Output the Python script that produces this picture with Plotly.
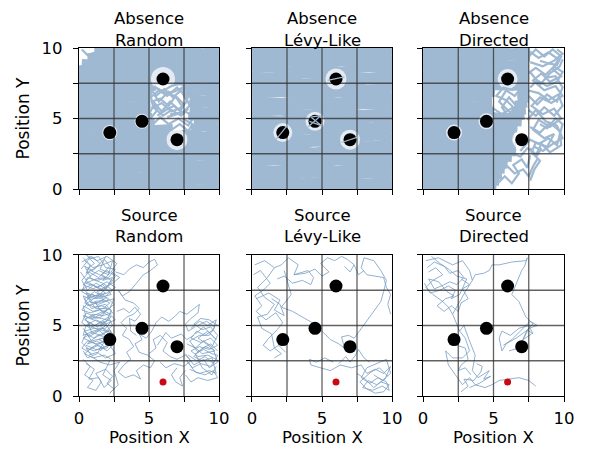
import plotly.graph_objects as go

# ---------------- data ----------------
tick_vals = [0, 2.5, 5, 7.5, 10]
tick_text = ["0", "", "5", "", "10"]
row_titles = ["Absence", "Source"]
col_titles = ["Random", "Lévy-Like", "Directed"]

target_x = [2.2, 4.5, 6.0, 7.0]
target_y = [4.0, 4.8, 7.8, 3.5]
source_x = [6.0]
source_y = [1.0]

# trajectories: each string is one path of "x,y" points
absence_random_dense = [
    "0,0.1 1.4,0.2 2.9,0.05 4.3,0.18 5.8,0.08 7.2,0.2 8.6,0.06 10,0.15",
    "10,0.5 8.5,0.62 7.1,0.45 5.6,0.58 4.2,0.44 2.8,0.6 1.3,0.46 0,0.55",
    "0,0.95 1.5,0.85 3,1.02 4.4,0.88 5.9,1.0 7.3,0.86 8.7,0.98 10,0.9",
    "10,1.4 8.6,1.28 7.1,1.42 5.7,1.3 4.2,1.45 2.8,1.3 1.4,1.42 0,1.32",
    "0,1.75 1.3,1.86 2.7,1.72 4.1,1.85 5.6,1.7 7.0,1.84 8.5,1.72 10,1.82",
    "10,2.2 8.6,2.3 7.2,2.12 5.8,2.26 4.3,2.14 2.9,2.28 1.4,2.12 0,2.25",
    "0,2.6 1.5,2.7 3.0,2.55 4.5,2.68 6.0,2.56 7.4,2.7 8.8,2.58 10,2.66",
    "10,3.0 8.8,3.1 7.6,2.98 6.4,3.0 5.0,3.1 3.6,2.98 2.2,3.1 0.9,2.98 0,3.05",
    "0,3.46 1.5,3.38 3.0,3.52 4.5,3.4 5.9,3.5 7.3,3.44 8.9,3.55 10,3.42",
    "10,3.9 8.9,3.8 7.8,3.92 6.4,3.85 5.0,3.95 3.6,3.82 2.2,3.94 0.9,3.82 0,3.9",
    "0,4.28 1.4,4.38 2.8,4.24 4.1,4.36 5.4,4.26 6.7,4.32", "8.0,4.3 9.1,4.4 10,4.26",
    "10,4.72 9.2,4.8 8.2,4.68", "5.4,4.7 4.0,4.8 2.7,4.66 1.4,4.8 0,4.7",
    "0,5.12 1.3,5.22 2.6,5.08 3.9,5.2 5.2,5.1", "7.8,5.14 9.0,5.24 10,5.1",
    "10,5.56 9.0,5.48 7.9,5.6", "5.1,5.55 3.6,5.48 2.3,5.62 1.1,5.5 0,5.58",
    "0,5.98 1.2,5.9 2.5,6.04 3.7,5.92 5.1,6.02", "7.9,5.96 9.1,6.06 10,5.94",
    "10,6.42 9.0,6.32 7.9,6.44", "5.1,6.4 3.7,6.48 2.4,6.34 1.2,6.46 0,6.36",
    "0,6.8 1.3,6.9 2.6,6.76 3.8,6.88 5.2,6.78", "7.6,6.82 8.9,6.92 10,6.78",
    "10,7.24 8.8,7.16 7.5,7.28", "5.5,7.22 4.0,7.3 2.7,7.16 1.4,7.28 0,7.2",
    "0,7.66 1.2,7.74 2.5,7.6 3.8,7.72 5.1,7.62 6.3,7.7 7.4,7.6 8.6,7.76 10,7.7",
    "10,8.08 8.9,8.0 7.8,8.14 6.6,8.06 5.3,8.08 3.9,8.16 2.6,8.02 1.3,8.14 0,8.04",
    "0,8.5 1.6,8.58 2.8,8.44 4.0,8.56 5.2,8.46 6.4,8.5 7.8,8.58 8.9,8.44 10,8.54",
    "10,8.92 8.8,8.84 7.6,8.98 6.4,8.88 5.2,8.96 4.0,8.86 2.8,8.98 1.6,8.88 0.2,8.94",
    "0.6,9.34 2.0,9.42 3.2,9.28 4.4,9.4 5.6,9.3 6.8,9.42 8.0,9.3 9.2,9.4 10,9.33",
    "10,9.78 8.8,9.7 7.6,9.82 6.4,9.72 5.2,9.84 4.0,9.72 2.8,9.82 1.1,9.75",
]
absence_random_thin = [
    "5.0,5.3 5.4,6.1 5.9,5.5 6.5,6.2 7.1,5.6 7.7,6.2 7.3,7.0 6.7,6.5 6.1,7.1 5.5,6.6 5.0,7.2 5.3,5.8 6.0,5.2 6.6,5.6 7.3,5.2 7.8,5.7",
    "5.0,6.4 5.7,7.0 6.3,6.6 7.0,7.2 7.6,6.6 7.9,5.9 7.4,5.4 6.8,5.9 6.2,5.6 5.6,5.2",
    "5.3,4.6 5.8,5.1 6.4,4.6 7.1,5.0 7.8,4.5 8.2,5.1 7.6,5.5 7.0,5.3 6.3,5.1",
    "5.3,7.3 5.9,6.9 6.6,7.3 7.3,7.5 7.8,6.9 8.1,7.4",
    "5.1,5.0 5.6,5.6 5.2,6.2 5.8,6.4 6.4,5.9 6.9,6.6 7.5,6.0 7.2,5.4 6.5,5.3",
    "4.9,6.9 5.5,7.2 6.2,6.8 6.8,6.9 7.4,7.2 7.7,6.4 8.0,6.7",
    "5.2,5.7 5.9,6.1 6.6,5.5 7.4,5.8 7.0,6.4 6.4,6.9 5.7,6.2 5.3,6.8",
    "6.6,4.2 7.2,4.6 7.8,4.1 8.1,4.6 7.4,5.0",
    "0.2,9.9 0.6,9.5 1.2,9.7 1.0,9.2 1.6,9.0 1.3,9.9 1.9,9.6",
]
absence_random_halo = [15, 15, 24, 21]

absence_levy_dense = [
    "0,0.1 2.1,0.22 4.3,0.05 6.4,0.2 8.5,0.06 10,0.18",
    "10,0.56 7.8,0.44 5.7,0.64 3.5,0.46 1.4,0.62 0,0.5",
    "0,1.0 2.3,0.88 4.5,1.1 6.6,0.9 8.8,1.08 10,0.95",
    "10,1.44 7.9,1.56 5.8,1.34 3.6,1.52 1.5,1.36 0,1.48",
    "0,1.88 2.0,1.98 4.2,1.78 6.3,1.96 8.4,1.8 10,1.92",
    "10,2.32 8.0,2.2 5.9,2.4 3.8,2.22 1.6,2.42 0,2.28",
    "0,2.76 2.2,2.86 4.4,2.66 6.5,2.84 8.6,2.68 10,2.8",
    "10,3.2 8.2,3.1 6.5,3.16 4.6,3.3 2.5,3.12 0.6,3.28 0,3.2",
    "0,3.64 1.65,3.58 2.75,3.66 4.6,3.56 6.35,3.68 7.65,3.62 9.0,3.72 10,3.6",
    "10,4.08 8.8,4.16 7.6,4.02 6.4,4.1 5.2,4.0 4.0,4.14 2.8,4.06 1.6,4.1 0,4.04",
    "0,4.52 1.75,4.44 2.65,4.5 3.9,4.44 5.1,4.52 6.8,4.6 8.5,4.46 10,4.56",
    "10,4.96 8.3,5.06 6.6,4.9 5.15,5.0 3.85,4.98 2.0,4.88 0,5.02",
    "0,5.4 1.9,5.5 3.9,5.34 5.9,5.48 7.9,5.32 10,5.46",
    "10,5.84 8.0,5.96 6.0,5.76 4.0,5.92 2.0,5.78 0,5.9",
    "0,6.28 2.1,6.18 4.1,6.36 6.2,6.2 8.2,6.38 10,6.24",
    "10,6.72 8.2,6.62 6.1,6.8 4.0,6.64 1.9,6.82 0,6.68",
    "0,7.16 2.0,7.26 3.9,7.1 5.45,7.2 6.55,7.18 8.3,7.1 10,7.24",
    "10,7.6 8.4,7.7 6.7,7.56 5.3,7.62 3.6,7.52 1.8,7.68 0,7.56",
    "0,8.04 1.9,7.96 3.9,8.12 5.35,8.0 6.65,8.06 8.4,7.96 10,8.1",
    "10,8.48 8.2,8.58 6.4,8.4 4.6,8.56 2.7,8.42 0.9,8.58 0,8.5",
    "0,8.92 2.1,9.02 4.2,8.84 6.3,9.0 8.4,8.86 10,8.98",
    "10,9.36 7.9,9.26 5.8,9.44 3.7,9.28 1.6,9.42 0,9.3",
    "0,9.8 2.2,9.88 4.4,9.72 6.6,9.86 8.8,9.74 10,9.84",
]
absence_levy_thin = [
    "2.9,6.2 3.5,6.9 4.2,6.1 3.6,5.8",
    "0.8,2.0 1.4,2.6 2.1,1.9",
    "8.2,8.6 8.9,9.2 9.4,8.5",
    "7.9,1.0 8.6,1.6 9.3,0.9",
    "3.2,8.3 3.9,8.9 4.4,8.2",
]
absence_levy_halo = [19, 19, 21, 20]
absence_levy_over = [
    "1.7,3.5 2.6,4.6",
    "4.0,4.4 4.9,5.2 4.2,5.1 4.95,4.5 4.1,4.8",
    "6.4,3.3 7.6,3.7",
    "5.4,7.7 6.6,7.95",
]

absence_directed_dense = [
    "0,0.1 1.3,0.2 2.6,0.05 3.9,0.18 5.2,0.08",
    "5.4,0.52 4.1,0.6 2.7,0.45 1.4,0.6 0,0.5",
    "0,0.94 1.4,0.86 2.8,1.0 4.2,0.88 5.6,0.98",
    "5.8,1.36 4.4,1.44 3.0,1.3 1.5,1.44 0,1.32",
    "0,1.78 1.5,1.86 3.0,1.72 4.5,1.84 6.0,1.74",
    "6.3,2.2 4.8,2.28 3.3,2.12 1.7,2.28 0,2.16",
    "0,2.62 1.7,2.7 3.4,2.56 5.0,2.7 6.6,2.58",
    "6.6,3.04 4.9,3.12 3.3,2.98 1.7,3.1 0,3.0",
    "0,3.46 1.6,3.54 3.2,3.4 4.8,3.52 6.4,3.44",
    "6.5,3.88 4.8,3.96 3.3,3.82 1.7,3.94 0,3.86",
    "0,4.3 1.6,4.38 3.2,4.24 4.9,4.36 6.7,4.26",
    "7.0,4.72 5.6,4.8 4.2,4.66 2.8,4.8 1.4,4.68 0,4.76",
    "0,5.14 1.5,5.22 3.0,5.08 4.5,5.2 5.9,5.1 7.2,5.2",
    "7.3,5.56 6.3,5.5", "5.0,5.56 3.6,5.48 2.3,5.62 1.1,5.5 0,5.58",
    "0,5.98 1.2,5.9 2.5,6.04 3.7,5.92 4.9,6.0", "6.5,5.98 7.4,6.06",
    "7.5,6.4 6.7,6.34", "4.9,6.4 3.6,6.48 2.4,6.34 1.2,6.46 0,6.36",
    "0,6.82 1.3,6.9 2.6,6.76 3.9,6.88 5.1,6.8", "6.7,6.84 7.5,6.78",
    "7.5,7.24 6.3,7.3 5.4,7.24 4.0,7.3 2.7,7.16 1.4,7.28 0,7.2",
    "0,7.66 1.3,7.74 2.6,7.6 3.9,7.72 5.2,7.62 6.4,7.7 7.5,7.6",
    "7.5,8.12 6.4,8.06 5.3,8.08 4.1,8.16 2.7,8.02 1.4,8.14 0,8.04",
    "0,8.5 1.5,8.58 3.0,8.44 4.5,8.56 6.0,8.48 7.5,8.56",
    "7.5,8.92 6.3,8.84 5.0,8.98 3.8,8.86 2.5,8.98 1.2,8.86 0,8.94",
    "0,9.34 1.3,9.42 2.6,9.28 3.9,9.4 5.1,9.3 6.3,9.42 7.6,9.32",
    "7.6,9.78 6.3,9.7 5.0,9.82 3.8,9.72 2.5,9.84 1.2,9.72 0,9.8",
]
absence_directed_thin = [
    "7.5,9.8 8.2,9.3 8.9,9.7 9.6,9.2 9.2,8.5 9.8,8.0 9.0,7.6 8.4,8.2 7.8,7.7 8.6,7.0 9.4,7.3 9.9,6.6 9.1,6.1 8.3,6.5 7.7,5.9 8.5,5.3 9.3,5.7 9.8,5.0 9.0,4.4 8.2,4.9 7.8,4.2 8.6,3.6 9.3,3.9 8.8,3.0 8.0,3.3 7.7,2.6 8.3,2.0 7.9,1.4 7.6,0.6",
    "7.6,9.0 8.5,8.7 9.3,9.1 9.9,9.6 9.5,9.9",
    "7.5,6.6 8.1,6.0 8.8,6.7 9.5,6.2 9.9,7.2 9.4,8.0 8.7,7.9",
    "7.4,4.9 8.0,5.6 8.7,4.8 9.5,4.5 9.9,3.6 9.2,3.2 8.5,2.7 7.9,3.0",
    "7.3,8.1 8.0,8.6 8.7,8.1 9.3,8.7 9.9,8.3 9.5,7.6 8.8,7.3 8.1,7.7 7.6,7.2",
    "7.4,7.0 8.2,6.8 8.9,6.3 9.6,6.7 9.9,5.9 9.3,5.2 8.6,5.8 8.0,5.2 7.5,5.6",
    "7.6,4.4 8.3,4.0 9.0,4.7 9.7,4.1 9.8,3.1 9.0,2.6 8.4,3.2 8.0,2.4 7.6,2.9",
    "7.5,9.4 8.0,9.9 8.6,9.4 9.2,9.9 9.8,9.4 9.5,8.8 8.9,8.9 8.3,9.1",
    "6.9,2.7 7.6,3.5 8.2,3.2 8.9,3.6 9.5,3.1 9.9,4.6 9.4,5.0 8.8,4.3 8.3,4.6",
    "5.2,0.3 5.8,0.9 6.3,0.4 6.8,1.1 6.4,1.7 7.0,2.1 7.4,1.5 7.6,2.4",
    "5.6,2.0 6.2,2.6 6.9,2.3 7.4,2.9 8.1,2.4 8.4,2.9",
    "5.4,1.3 6.0,1.6 6.5,1.1 7.1,1.4 7.5,0.9 7.8,1.6 8.1,2.1",
    "6.0,5.2 5.6,5.8 6.1,6.5 6.6,5.9 6.2,5.4 5.4,6.2 5.9,7.0 6.5,6.6 7.0,7.2",
    "5.0,5.7 5.6,5.3 6.4,5.8 5.9,6.3 5.2,6.6 5.7,7.2 6.4,7.0",
    "7.6,8.3 8.3,7.4 9.0,8.2 9.7,8.7 9.9,9.2",
]
absence_directed_halo = [16, 16, 20, 19]

source_random_paths = [
    "0.3,9.8 0.8,9.3 0.5,8.7 1.2,9.1 1.8,9.7 2.2,9.2 1.6,8.6 2.3,8.2 1.9,7.6 1.2,8.0 0.6,7.5 0.2,8.2 0.7,8.8 1.4,8.4 2.0,8.9 2.6,8.5 2.2,7.9 1.5,7.2 0.9,6.8 0.3,7.1 0.6,6.4 1.3,6.6 2.0,7.0 2.5,6.5 1.9,6.0 1.2,5.6 0.5,5.9 0.2,5.2 0.8,4.8 1.5,5.2 2.1,5.6 2.4,5.0 1.8,4.5 1.1,4.1 0.5,4.4 0.2,3.8 0.7,3.3 1.4,3.6 2.0,3.2 2.5,3.7 1.9,4.0 1.3,3.0 0.6,2.7 0.3,3.2",
    "0.2,9.5 0.9,9.9 1.5,9.4 1.0,8.9 0.4,9.2 0.9,8.3 1.7,8.0 2.4,7.5 1.8,7.0 1.1,7.4 0.4,6.9 0.9,6.2 1.6,6.4 2.3,6.1 2.0,5.3 1.3,4.9 0.6,5.3 0.9,4.5 1.6,4.3 2.2,4.7 2.5,4.2 1.7,3.8 1.0,3.5 0.4,3.0 1.0,2.7 1.8,2.9 2.3,2.6",
    "0.5,10.0 1.3,9.6 2.0,9.9 2.7,9.4 2.3,8.8 2.9,8.4 2.4,8.0 1.6,7.6 0.9,7.9 0.3,7.6 0.8,7.1 1.6,6.9 2.2,6.6 1.7,6.2 1.0,6.0 0.3,6.4 0.5,5.6 1.3,5.3 1.9,5.0 1.4,4.6 0.7,4.2 0.3,4.8",
    "0.1,8.8 0.6,8.1 1.3,7.7 2.0,8.1 2.6,7.7 2.0,7.3 1.2,7.1 0.5,7.3 1.0,6.6 1.8,6.7 2.5,6.9 2.2,6.2 1.5,5.9 0.8,5.6 1.6,5.5 2.3,5.3 1.9,4.8 1.1,4.8 0.4,4.6 0.9,3.9 1.7,4.1 2.3,3.9 2.0,3.4 1.2,3.3 0.5,3.6",
    "0.4,9.6 1.0,9.1 1.7,9.3 2.4,9.6 2.1,8.6 1.4,8.9 0.8,8.5 0.3,7.9 1.0,7.6 1.7,7.9 2.3,7.2 1.6,7.0 0.9,7.2 0.4,6.6 1.1,6.3 1.9,6.5 2.4,5.9 1.7,5.7 1.0,5.8 0.4,5.4 1.1,5.0 1.8,5.3 2.3,4.5 1.5,4.7 0.8,4.4 0.3,4.1 1.0,3.8 1.6,3.4 2.2,3.6 2.6,3.0 1.9,2.7 1.3,3.1 0.7,2.9",
    "0.15,9.0 0.7,9.7 1.4,9.9 1.9,9.1 2.6,9.0 2.1,8.4 1.3,8.2 0.6,8.4 0.2,7.4 0.9,7.0 1.6,7.3 2.1,6.8 1.4,6.5 0.7,6.7 0.2,6.1 0.8,5.9 1.5,6.1 2.1,5.9 2.6,5.4 1.9,5.1 1.2,5.4 0.5,5.0 0.3,4.3 1.0,4.6 1.7,4.8 2.4,4.4 1.9,3.9 1.2,3.7 0.6,3.9 0.2,3.4 0.9,3.0",
    "0.6,9.9 1.1,9.4 0.6,9.0 1.3,8.7 1.9,8.4 1.2,8.3 0.5,8.0 1.1,7.8 1.9,7.3 1.3,6.9 0.6,7.0 1.2,6.2 2.0,6.2 1.6,5.6 0.9,5.5 0.3,5.7 0.8,5.0 1.5,4.6 2.0,4.2 1.3,4.3 0.6,3.7 1.3,3.9 1.8,3.5 1.1,3.2 0.5,3.4 0.9,2.9",
    "1.9,9.9 1.5,9.0 2.2,8.7 1.7,8.2 2.4,8.4 2.0,7.7 1.3,7.4 1.8,6.8 1.1,6.7 1.6,6.0 2.3,5.6 1.5,5.0 2.2,4.3 1.4,4.0 2.1,3.7 1.5,3.2",
    "0.3,2.6 0.8,2.1 0.4,1.5 1.0,1.1 0.6,0.6 1.2,0.4 1.6,1.0 1.2,1.6 1.9,1.9 2.4,1.4 2.0,0.9 2.5,0.5 2.2,0.2 2.8,0.8 2.5,1.8 2.9,2.4 2.2,2.2 1.5,2.4 0.9,2.8",
    "0.5,2.3 1.1,1.9 0.7,1.2 1.4,1.3 1.8,0.6 2.3,1.1 1.7,1.5 2.2,2.5",
    "2.6,8.8 3.2,8.6 3.6,9.0 4.1,9.3 4.6,9.1 5.0,9.5 5.4,9.7 5.6,9.3 5.1,8.9 4.6,8.6 4.1,8.0 3.6,7.4 3.1,7.1 2.8,7.5 3.3,6.8 3.9,6.6 4.3,6.2 3.9,5.8 3.4,5.6 3.0,5.2 3.4,4.8 3.1,4.3 3.6,4.0 3.9,3.5 3.4,3.1 3.7,2.6 3.2,2.2 2.8,1.7 3.3,1.3 3.9,1.5 4.4,1.2 4.1,1.8 4.6,2.2 5.1,2.0 5.4,2.5 4.9,2.9 4.3,3.1 4.0,3.7 4.5,4.0 4.3,4.4",
    "2.7,6.0 3.2,6.2 3.6,5.9 4.0,6.3 4.4,5.8 4.0,5.3 3.6,5.5 3.7,4.6 4.1,4.3",
    "4.3,4.4 4.8,4.1 5.2,4.6 5.5,5.2 5.9,5.6 6.4,5.3 6.8,5.6 7.2,6.0 7.7,5.8 8.1,6.1 8.6,6.5 8.5,5.9 8.0,5.5 7.6,5.1 7.8,4.6 8.3,4.9",
    "5.0,3.0 5.5,3.4 5.3,4.0 5.8,4.3 6.3,3.8 6.0,3.2 6.5,2.8 7.0,2.6 7.6,2.9 8.0,2.5 7.5,2.1 6.8,2.3 6.2,2.0 5.8,2.4",
    "5.6,3.6 6.2,4.5 6.6,4.1 7.3,4.4 7.7,4.0 8.2,4.3",
    "8.0,4.8 8.6,5.3 9.2,5.0 9.8,5.4 9.6,4.7 9.0,4.3 8.4,4.6 8.0,4.1 8.7,3.8 9.4,4.1 9.9,3.6 9.3,3.3 8.6,3.5 8.0,3.2 8.5,2.8 9.2,2.9 9.8,2.6 9.4,2.1 8.7,2.3 8.1,2.0 7.7,2.5 8.3,1.7 9.0,1.5 9.6,1.8 9.9,1.3 9.2,1.1 8.5,1.3 8.0,1.0 7.6,1.5",
    "7.7,3.7 8.3,3.4 8.9,3.9 9.5,3.5 9.9,4.3 9.4,4.9 8.8,4.7 8.2,5.1 8.7,5.5 9.3,5.4 9.9,5.0",
    "7.8,2.9 8.4,2.5 9.0,2.8 9.6,2.3 9.9,2.9 9.5,3.0 8.9,3.3 8.3,3.0 8.8,2.0 9.5,1.5 9.8,2.1",
    "8.1,3.6 8.8,3.0 9.7,3.2 9.1,3.7 8.5,4.1 9.2,4.6 9.8,4.0 8.9,4.9 8.3,4.4",
    "7.6,3.0 8.2,2.2 8.9,2.6 9.3,2.0 9.9,2.4 9.6,3.3 9.0,3.5 8.5,3.1 7.9,3.9 8.6,4.3 9.3,4.3 9.7,4.9 9.1,5.3 8.5,5.0",
    "7.9,1.9 8.6,1.6 9.3,1.8 9.8,1.6 9.5,2.7 8.8,2.5 8.2,2.8 8.7,3.3 9.4,3.7 9.9,3.2",
    "7.0,2.0 6.6,1.5 6.9,1.0 7.4,0.7 7.2,1.3 7.6,1.8",
]

source_levy_paths = [
    "0.2,9.3 0.9,9.6 1.6,9.1 1.1,8.4 0.4,7.7 0.9,7.0 1.6,6.5 1.1,5.8 0.4,5.6 0.7,4.8 1.4,4.4 1.6,3.4 2.1,3.0 1.6,2.7",
    "0.1,8.6 0.6,8.9 1.3,8.0 0.8,7.5 0.2,7.1 0.7,6.4 0.3,6.0 1.0,5.4 1.7,5.9 2.2,5.2 1.8,4.7 1.2,4.1 0.8,3.6 1.3,3.2 1.9,3.6 2.4,3.1",
    "0.3,6.9 1.2,7.3 2.0,6.8 1.6,6.1 2.3,5.7 2.0,6.5 1.4,6.9",
    "1.6,9.1 2.1,9.3 2.6,9.8 3.3,9.3 3.0,8.6 4.0,8.9 4.4,8.4 4.2,7.9 3.6,8.2 2.9,8.0 2.3,8.5 1.8,8.3",
    "3.0,8.6 3.8,8.7 4.5,9.0 5.0,8.5 5.5,8.8 4.9,9.4 5.4,9.8 5.9,9.6 6.4,9.9 6.8,9.7 7.3,9.3 7.0,8.8 6.6,9.2",
    "2.3,8.9 2.8,7.2 2.1,6.3 2.9,6.0 3.6,5.6 4.3,5.2 5.0,4.6 5.6,4.0 6.2,3.7 6.6,3.4 6.4,4.2 6.9,4.3 7.3,4.1",
    "7.3,4.1 7.8,4.8 8.2,5.3 8.7,6.0 9.2,6.7 9.4,7.4 9.6,8.2 9.2,8.9 8.7,9.6 8.0,9.8 7.8,9.1 8.2,8.6 9.4,8.4 9.6,7.7 9.9,7.2 9.7,6.5 9.9,5.8",
    "7.3,9.3 7.6,8.6 8.0,8.9",
    "4.2,2.2 4.9,2.0 5.6,1.8 6.3,2.2 7.1,2.0 7.8,2.2 8.2,1.6 8.8,1.9 9.4,1.6 9.9,2.1 9.5,1.2 8.9,0.8 8.3,1.1 7.9,0.6 8.6,0.4 9.3,0.7 9.8,0.4 9.6,1.0 9.0,1.3 8.4,0.9 7.8,1.3 8.2,2.0 8.9,2.3 9.6,2.6 9.9,1.6 9.3,1.1 8.7,1.5",
    "7.5,1.6 8.1,1.2 8.7,0.6 9.2,1.0 9.8,0.8 9.4,0.3 8.8,0.2 8.2,0.5 7.7,1.0 8.5,1.7 9.1,2.0 9.7,1.4",
    "6.2,2.3 6.7,2.8 7.0,2.4 7.4,2.9 7.6,3.3 8.0,2.7 8.4,2.4",
    "4.2,2.2 4.1,2.6 4.6,2.4 5.2,2.7 5.8,2.4",
]

source_directed_paths = [
    "0.2,9.6 1.1,9.8 2.1,9.3 2.8,9.6 3.3,8.9 3.5,8.2 3.0,7.4 2.6,6.7 2.1,5.8 1.8,6.3 1.4,6.7 0.7,7.2 0.2,7.7 0.7,8.2 1.4,8.6 0.9,9.1 0.4,8.8",
    "0.3,9.1 0.8,9.5 1.5,9.2 1.9,8.7 2.5,8.9 2.9,8.4 2.4,7.9 1.9,8.1 1.3,7.8 0.8,7.6 0.4,8.3 1.1,8.1 1.7,7.4 2.2,7.1 1.6,6.9 1.0,6.4 1.5,6.0 2.0,6.4 2.5,6.0 2.7,6.6 3.2,6.9 2.8,7.6 3.3,7.9 2.7,8.3",
    "0.1,8.0 0.5,7.3 1.2,7.5 1.8,7.8 2.3,7.5 2.0,6.9 2.6,7.2 3.1,8.3 2.4,8.5 1.8,9.0 1.2,9.4 0.6,9.9",
    "3.5,8.2 3.7,8.6 4.3,8.7 4.7,8.9 4.9,9.3 5.4,9.3 6.3,9.5 7.3,9.6 7.4,9.8 7.2,9.2 7.0,8.9 6.6,7.9 6.4,7.4 6.3,7.2 6.8,6.7 7.0,6.3 7.3,5.6 7.8,5.1 7.3,4.6 6.6,4.1 5.9,3.7 5.6,3.2 5.4,4.1 5.6,4.6 6.2,4.3 6.8,4.8 7.5,5.0 7.8,4.4 7.4,4.7 6.8,3.4 6.1,3.2",
    "5.7,3.6 6.3,4.0 6.9,4.6 7.6,5.3 8.1,5.0 7.5,4.8 7.1,4.0 7.7,4.4",
    "2.1,5.8 2.6,4.6 3.0,4.1 3.3,3.2 2.8,2.7 2.1,2.7 1.6,3.2 1.8,2.2 2.3,1.5 2.8,0.8 3.3,1.3 3.7,0.8 4.4,0.6 4.9,0.8 5.4,1.1 6.1,1.2 6.8,1.3 7.5,1.1 8.0,0.7",
    "2.6,4.6 2.9,5.0 3.3,3.9 3.7,2.9 3.5,1.8 3.9,1.3 4.7,1.8 4.3,1.2 4.8,1.4 4.0,0.9 3.3,0.6",
    "2.5,4.2 2.4,3.6 3.0,3.4 3.2,2.6 2.7,2.2 2.5,1.8 3.0,2.0 3.4,1.5",
    "2.7,0.3 3.2,0.7 2.9,1.2 3.6,1.1 4.1,1.7 4.2,2.1 3.8,2.3",
]

# ---------------- helpers ----------------
def to_xy(paths):
    xs, ys = [], []
    for p in paths:
        for pt in p.split():
            a, b = pt.split(",")
            xs.append(float(a))
            ys.append(float(b))
        xs.append(None)
        ys.append(None)
    return xs, ys

DENSE = "rgb(160,185,210)"
THIN = "rgba(120,158,195,0.8)"
GRID = "rgba(45,45,45,0.75)"
FONT = "DejaVu Sans"

fig = go.Figure()

x_domains = [[0.0, 0.2887], [0.3567, 0.6454], [0.7093, 1.0]]
y_domains = [[0.5948, 1.0], [0.0, 0.4052]]

panels = [
    (0, 0, absence_random_dense, absence_random_thin, absence_random_halo, None),
    (0, 1, absence_levy_dense, absence_levy_thin, absence_levy_halo, absence_levy_over),
    (0, 2, absence_directed_dense, absence_directed_thin, absence_directed_halo, None),
    (1, 0, [], source_random_paths, None, None),
    (1, 1, [], source_levy_paths, None, None),
    (1, 2, [], source_directed_paths, None, None),
]

grid_vals = [v for v in tick_vals if 0 < v < 10]

for idx, (r, c, dense, thin, halo, over) in enumerate(panels):
    n = idx + 1
    xa = "x" if n == 1 else f"x{n}"
    ya = "y" if n == 1 else f"y{n}"
    if dense:
        dx, dy = to_xy(dense)
        fig.add_trace(go.Scatter(x=dx, y=dy, mode="lines", xaxis=xa, yaxis=ya,
                                 line=dict(color=DENSE, width=8), showlegend=False,
                                 hoverinfo="skip"))
    if halo:
        # empty ring left around each target by the trajectories
        fig.add_trace(go.Scatter(x=target_x, y=target_y, mode="markers", xaxis=xa, yaxis=ya,
                                 marker=dict(color="white", size=halo, line=dict(width=0)),
                                 showlegend=False, hoverinfo="skip"))
    if thin:
        tx, ty = to_xy(thin)
        fig.add_trace(go.Scatter(x=tx, y=ty, mode="lines", xaxis=xa, yaxis=ya,
                                 line=dict(color=THIN if r == 1 else DENSE,
                                           width=1 if r == 1 else 2.2),
                                 showlegend=False, hoverinfo="skip"))
    gx, gy = [], []
    for v in grid_vals:
        gx += [v, v, None]
        gy += [tick_vals[0], tick_vals[-1], None]
        gx += [tick_vals[0], tick_vals[-1], None]
        gy += [v, v, None]
    fig.add_trace(go.Scatter(x=gx, y=gy, mode="lines", xaxis=xa, yaxis=ya,
                             line=dict(color=GRID, width=1.3), showlegend=False,
                             hoverinfo="skip"))
    fig.add_trace(go.Scatter(x=target_x, y=target_y, mode="markers", xaxis=xa, yaxis=ya,
                             marker=dict(color="black", size=13, line=dict(width=0)),
                             showlegend=False))
    if r == 1:
        fig.add_trace(go.Scatter(x=source_x, y=source_y, mode="markers", xaxis=xa, yaxis=ya,
                                 marker=dict(color="#c80a14", size=7, line=dict(width=0)),
                                 showlegend=False))
    if over:
        ox, oy = to_xy(over)
        fig.add_trace(go.Scatter(x=ox, y=oy, mode="lines", xaxis=xa, yaxis=ya,
                                 line=dict(color=DENSE, width=1.2), showlegend=False,
                                 hoverinfo="skip"))

    axis_common = dict(range=[0, 10], tickvals=tick_vals, ticks="outside", ticklen=5,
                       tickwidth=1.2, tickcolor="black", showline=True, mirror=True,
                       linecolor="black", linewidth=1.3, showgrid=False, zeroline=False,
                       tickfont=dict(family=FONT, size=16.5, color="black"),
                       layer="above traces", fixedrange=True, automargin=False)
    xkey = "xaxis" if n == 1 else f"xaxis{n}"
    ykey = "yaxis" if n == 1 else f"yaxis{n}"
    fig.layout[xkey] = dict(axis_common, domain=x_domains[c], anchor=ya,
                            ticktext=tick_text if r == 1 else [""] * len(tick_vals),
                            ticklabelstandoff=2)
    fig.layout[ykey] = dict(axis_common, domain=y_domains[r], anchor=xa,
                            ticktext=tick_text if c == 0 else [""] * len(tick_vals),
                            ticklabelstandoff=7)

# the page is offset by the 8px body margin; plot area spans page px 79..564 x 48..396
PLOT_H = 348
def py(pix):
    return (396 - pix) / PLOT_H

annotations = []
title_rows = [(18.8, 40.0), (215.0, 236.5)]
for r in range(2):
    for c in range(3):
        xc = sum(x_domains[c]) / 2
        for txt, pix in ((row_titles[r], title_rows[r][0]), (col_titles[c], title_rows[r][1])):
            annotations.append(dict(text=txt, x=xc, y=py(pix), xref="paper", yref="paper",
                                    xanchor="center", yanchor="middle", showarrow=False,
                                    font=dict(family=FONT, size=16.5, color="black")))
for c in range(3):
    annotations.append(dict(text="Position X", x=sum(x_domains[c]) / 2, y=py(438.0),
                            xref="paper", yref="paper", xanchor="center", yanchor="middle",
                            showarrow=False, font=dict(family=FONT, size=16.5, color="black")))
for r in range(2):
    annotations.append(dict(text="Position Y", x=(23 - 79) / 485, y=sum(y_domains[r]) / 2,
                            xref="paper", yref="paper", xanchor="center", yanchor="middle",
                            textangle=-90, showarrow=False,
                            font=dict(family=FONT, size=17, color="black")))

fig.update_layout(width=574, height=440, margin=dict(l=71, r=18, t=40, b=52),
                  plot_bgcolor="white", paper_bgcolor="white", annotations=annotations,
                  showlegend=False)

fig.write_html("out.html")
